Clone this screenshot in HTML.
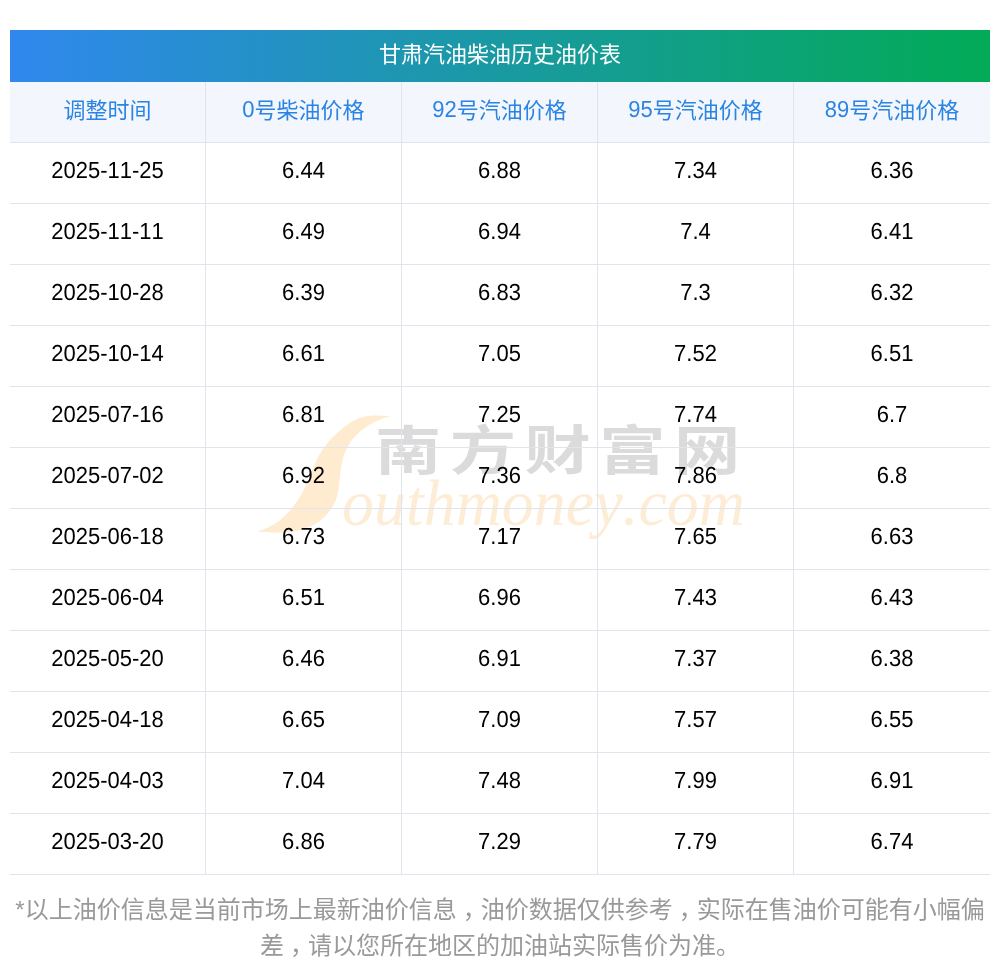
<!DOCTYPE html>
<html lang="zh-CN">
<head>
<meta charset="utf-8">
<title>甘肃汽油柴油历史油价表</title>
<style>
*{box-sizing:border-box;margin:0;padding:0}
html,body{width:1000px;height:977px;background:#fff;overflow:hidden}
body{font-family:"Liberation Sans","Noto Sans CJK SC",sans-serif;position:relative;font-kerning:none}
.wrap{position:absolute;left:10px;top:30px;width:980px;z-index:1}
.title{height:52px;line-height:50px;text-align:center;color:#fff;font-size:22px;
 background:linear-gradient(to right,#3088ee 0%,#02ab56 100%)}
table{width:980px;border-collapse:separate;border-spacing:0;table-layout:fixed}
th,td{width:196px;height:61px;text-align:center;font-size:22px;font-weight:normal;border-bottom:1px solid #dfe4ed;border-right:1px solid #dfe4ed;vertical-align:top;line-height:54px}
th{background:#f3f7fd;color:#2b84e2;line-height:57px}
td{color:#000}
td span{display:inline-block;text-rendering:geometricPrecision;transform:translateY(1px) scaleY(1.06);transform-origin:50% 33px}
th b{font-weight:normal;display:inline-block;text-rendering:geometricPrecision;transform:translateY(-0.7px) scaleY(1.05);transform-origin:50% 36px}
th:last-child,td:last-child{border-right:none}
.note{position:absolute;left:10px;top:892px;width:980px;text-align:center;font-size:24px;line-height:36px;color:#999}
.note i{font-style:normal;position:relative;left:6px}
.wm{position:absolute;left:250px;top:400px;width:510px;height:150px;z-index:0}
</style>
</head>
<body>
<svg class="wm" viewBox="250 400 510 150">
<path fill="#feebd0" d="M390.2,416.2 C386.9,416.2 375.9,415.2 370.0,415.8 C364.1,416.4 360.0,417.5 355.0,420.0 C350.0,422.4 344.5,426.7 340.0,430.5 C335.5,434.2 331.2,438.7 328.0,442.5 C324.7,446.2 322.7,449.2 320.5,453.0 C318.2,456.7 316.5,460.5 314.5,465.0 C312.5,469.5 310.7,475.0 308.5,480.0 C306.2,485.0 304.0,490.0 301.0,495.0 C298.0,500.0 294.7,505.2 290.5,510.0 C286.2,514.7 281.0,519.9 275.5,523.5 C270.0,527.1 260.5,530.4 257.5,531.7 C261.2,531.9 273.0,532.7 280.0,532.5 C287.0,532.2 293.5,531.7 299.5,530.2 C305.5,528.7 311.2,526.4 316.0,523.5 C320.7,520.6 324.7,516.7 328.0,513.0 C331.2,509.2 333.7,505.0 335.5,501.0 C337.2,497.0 337.7,493.2 338.5,489.0 C339.2,484.7 339.4,480.0 340.0,475.5 C340.6,471.0 341.2,466.2 342.2,462.0 C343.2,457.7 344.1,454.0 346.0,450.0 C347.9,446.0 350.2,441.7 353.5,438.0 C356.7,434.2 361.2,430.5 365.5,427.5 C369.7,424.5 374.9,421.9 379.0,420.0 C383.1,418.1 388.4,416.9 390.2,416.2 Z"/>
<text font-family="'Liberation Serif',serif" font-style="italic" font-size="66" fill="#feedd6"><tspan x="317" y="486" font-size="22" fill="#feebd0">S</tspan><tspan x="342" y="525" textLength="403" lengthAdjust="spacingAndGlyphs">outhmoney.com</tspan></text>
<g transform="translate(375,469.5) scale(1.25,1)" fill="#dbdbdb" font-family="'Noto Sans CJK SC',sans-serif" font-weight="700" font-size="53">
<text x="0 59.8 119.6 179.4 239.2" y="0">南方财富网</text>
</g>
</svg>
<div class="wrap">
<div class="title">甘肃汽油柴油历史油价表</div>
<table>
<tr><th>调整时间</th><th><b>0</b>号柴油价格</th><th><b>92</b>号汽油价格</th><th><b>95</b>号汽油价格</th><th><b>89</b>号汽油价格</th></tr>
<tr><td><span>2025-11-25</span></td><td><span>6.44</span></td><td><span>6.88</span></td><td><span>7.34</span></td><td><span>6.36</span></td></tr>
<tr><td><span>2025-11-11</span></td><td><span>6.49</span></td><td><span>6.94</span></td><td><span>7.4</span></td><td><span>6.41</span></td></tr>
<tr><td><span>2025-10-28</span></td><td><span>6.39</span></td><td><span>6.83</span></td><td><span>7.3</span></td><td><span>6.32</span></td></tr>
<tr><td><span>2025-10-14</span></td><td><span>6.61</span></td><td><span>7.05</span></td><td><span>7.52</span></td><td><span>6.51</span></td></tr>
<tr><td><span>2025-07-16</span></td><td><span>6.81</span></td><td><span>7.25</span></td><td><span>7.74</span></td><td><span>6.7</span></td></tr>
<tr><td><span>2025-07-02</span></td><td><span>6.92</span></td><td><span>7.36</span></td><td><span>7.86</span></td><td><span>6.8</span></td></tr>
<tr><td><span>2025-06-18</span></td><td><span>6.73</span></td><td><span>7.17</span></td><td><span>7.65</span></td><td><span>6.63</span></td></tr>
<tr><td><span>2025-06-04</span></td><td><span>6.51</span></td><td><span>6.96</span></td><td><span>7.43</span></td><td><span>6.43</span></td></tr>
<tr><td><span>2025-05-20</span></td><td><span>6.46</span></td><td><span>6.91</span></td><td><span>7.37</span></td><td><span>6.38</span></td></tr>
<tr><td><span>2025-04-18</span></td><td><span>6.65</span></td><td><span>7.09</span></td><td><span>7.57</span></td><td><span>6.55</span></td></tr>
<tr><td><span>2025-04-03</span></td><td><span>7.04</span></td><td><span>7.48</span></td><td><span>7.99</span></td><td><span>6.91</span></td></tr>
<tr><td><span>2025-03-20</span></td><td><span>6.86</span></td><td><span>7.29</span></td><td><span>7.79</span></td><td><span>6.74</span></td></tr>
</table>
</div>
<div class="note">*以上油价信息是当前市场上最新油价信息<i>，</i>油价数据仅供参考<i>，</i>实际在售油价可能有小幅偏差<i>，</i>请以您所在地区的加油站实际售价为准。</div>
</body>
</html>
